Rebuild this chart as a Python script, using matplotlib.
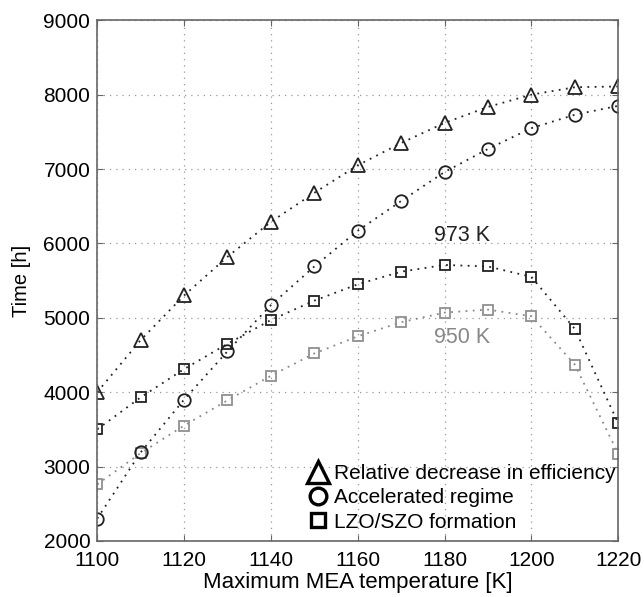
import matplotlib
matplotlib.use("Agg")
import matplotlib.pyplot as plt
from matplotlib.lines import Line2D

plt.rcParams['font.family'] = ['Liberation Sans', 'DejaVu Sans']

temps = [1100, 1110, 1120, 1130, 1140, 1150, 1160, 1170, 1180, 1190, 1200, 1210, 1220]
efficiency = [4000, 4700, 5300, 5820, 6290, 6680, 7050, 7350, 7620, 7835, 8000, 8100, 8110]
accelerated = [2300, 3190, 3900, 4550, 5170, 5690, 6170, 6570, 6960, 7270, 7550, 7730, 7850]
lzo_973 = [3500, 3930, 4310, 4650, 4970, 5230, 5450, 5620, 5710, 5690, 5550, 4850, 3580]
lzo_950 = [2760, 3180, 3550, 3890, 4220, 4520, 4750, 4940, 5070, 5110, 5020, 4370, 3170]

xticks = [1100, 1120, 1140, 1160, 1180, 1200, 1220]
yticks = [2000, 3000, 4000, 5000, 6000, 7000, 8000, 9000]

fig = plt.figure(figsize=(6.44, 5.97), dpi=100)
ax = fig.add_axes([0.151, 0.094, 0.809, 0.872])

dots = (0, (1, 3))
ax.plot(temps, lzo_950, linestyle=dots, color='#888888', lw=1.3,
        marker='s', ms=7, mfc='none', mec='#909090', mew=1.3)
ax.plot(temps, lzo_973, linestyle=dots, color='#222222', lw=1.3,
        marker='s', ms=7, mfc='none', mec='#222222', mew=1.3)
ax.plot(temps, accelerated, linestyle=dots, color='#222222', lw=1.3,
        marker='o', ms=9, mfc='none', mec='#222222', mew=1.3)
ax.plot(temps, efficiency, linestyle=dots, color='#222222', lw=1.3,
        marker='^', ms=10.5, mfc='none', mec='#222222', mew=1.3)

ax.text(1184, 6110, '973 K', fontsize=15.5, ha='center', va='center', color='#222222')
ax.text(1184, 4730, '950 K', fontsize=15.5, ha='center', va='center', color='#888888')

ax.set_xlim(1100, 1220)
ax.set_ylim(2000, 9000)
ax.set_xticks(xticks)
ax.set_yticks(yticks)
ax.tick_params(direction='in', labelsize=15, top=True, right=True, length=4,
               color='#666666')
ax.tick_params(axis='x', pad=7)
ax.tick_params(axis='y', pad=5)
ax.grid(True, linestyle=(0, (1, 4)), color='#999999', lw=0.9)
for s in ax.spines.values():
    s.set_color('#666666')
    s.set_linewidth(1.2)

ax.set_xlabel('Maximum MEA temperature [K]', fontsize=16, labelpad=1.5)
ax.set_ylabel('Time [h]', fontsize=14.5)
ax.yaxis.set_label_coords(-0.128, 0.5)

handles = [
    Line2D([], [], ls='none', marker='^', ms=16, mfc='none', mec='black', mew=2.4),
    Line2D([], [], ls='none', marker='o', ms=12, mfc='none', mec='black', mew=2.4),
    Line2D([], [], ls='none', marker='s', ms=10, mfc='none', mec='black', mew=2.4),
]
labels = ['Relative decrease in efficiency', 'Accelerated regime', 'LZO/SZO formation']
ax.legend(handles, labels, loc='lower right', bbox_to_anchor=(1.013, 0.0),
          frameon=False, fontsize=15, handlelength=0.9, handletextpad=0.3,
          labelspacing=0.25, borderaxespad=0.0, borderpad=0.45)

fig.savefig('out.png', dpi=100)
